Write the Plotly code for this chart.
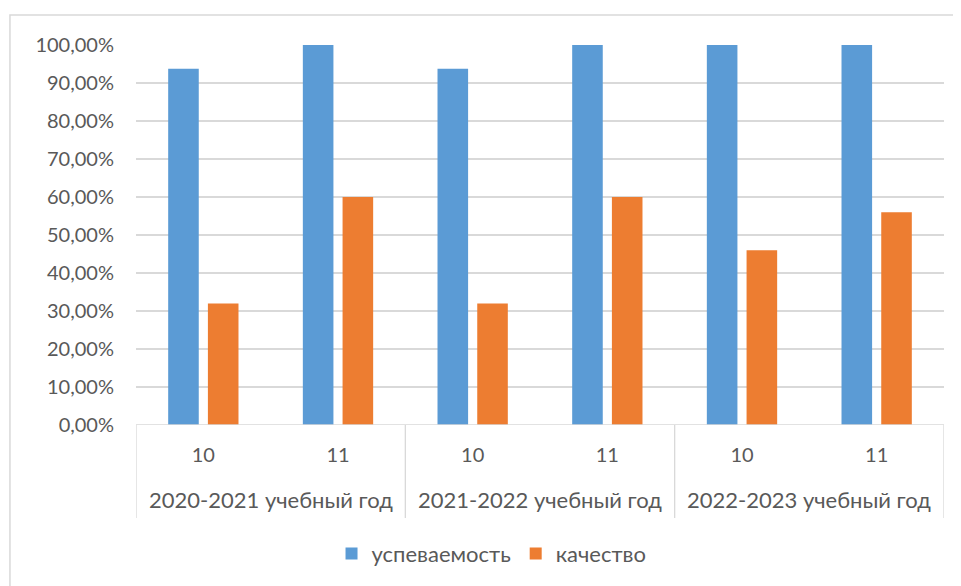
import plotly.graph_objects as go

classes = ["10", "11", "10", "11", "10", "11"]
years = ["2020-2021 учебный год", "2021-2022 учебный год", "2022-2023 учебный год"]
uspev = [0.9375, 1.0, 0.9375, 1.0, 1.0, 1.0]
kach = [0.32, 0.60, 0.32, 0.60, 0.46, 0.56]
y_ticks = [i / 10 for i in range(11)]

FONT = "Lato"
TXT = "#595959"
xs = list(range(len(classes)))

fig = go.Figure()
fig.add_trace(go.Bar(x=xs, y=uspev, name="успеваемость", marker=dict(color="#5B9BD5", line=dict(width=0))))
fig.add_trace(go.Bar(x=xs, y=kach, name="качество", marker=dict(color="#ED7D31", line=dict(width=0))))

shapes = []
shapes.append(dict(type="rect", xref="paper", yref="paper", x0=-0.156, x1=1.2, y0=-1.0, y1=1.079,
                   line=dict(color="#D9D9D9", width=1.5), layer="below"))
for b in [-0.5, 1.5, 3.5, 5.5]:
    shapes.append(dict(type="line", xref="x", yref="paper", x0=b, x1=b, y0=0, y1=-0.245,
                       line=dict(color="#D9D9D9", width=1.3)))

annotations = []
for i, yr in enumerate(years):
    annotations.append(dict(x=2 * i + 0.5, y=-0.197, xref="x", yref="paper", text=yr, showarrow=False,
                            font=dict(family=FONT, size=22, color=TXT), yanchor="middle"))

fig.update_layout(
    width=961, height=586,
    margin=dict(l=128, r=25, t=37, b=169),
    paper_bgcolor="white", plot_bgcolor="white",
    barmode="group", bargap=0.41, bargroupgap=0.23,
    separators=", ",
    font=dict(family=FONT, size=20, color=TXT),
    shapes=shapes, annotations=annotations,
    legend=dict(orientation="h", x=0.44, xanchor="center", y=-0.339, yanchor="middle",
                font=dict(family=FONT, size=22, color=TXT), itemwidth=30),
    xaxis=dict(range=[-0.5, 5.5], tickmode="array", tickvals=xs, ticktext=classes,
               showgrid=False, zeroline=False, showline=False, ticks="", ticklabelstandoff=16,
               tickfont=dict(family=FONT, size=20, color=TXT)),
    yaxis=dict(range=[0, 1.0], tickmode="array", tickvals=y_ticks, tickformat=".2%",
               showgrid=True, gridcolor="#D9D9D9", gridwidth=1.5, zeroline=False,
               showline=False, ticks="", ticklabelstandoff=21,
               tickfont=dict(family=FONT, size=20, color=TXT)),
)
fig.add_shape(type="line", xref="paper", yref="y", x0=0, x1=1, y0=0, y1=0,
              line=dict(color="#D9D9D9", width=1.5))

fig.write_html("out.html")
